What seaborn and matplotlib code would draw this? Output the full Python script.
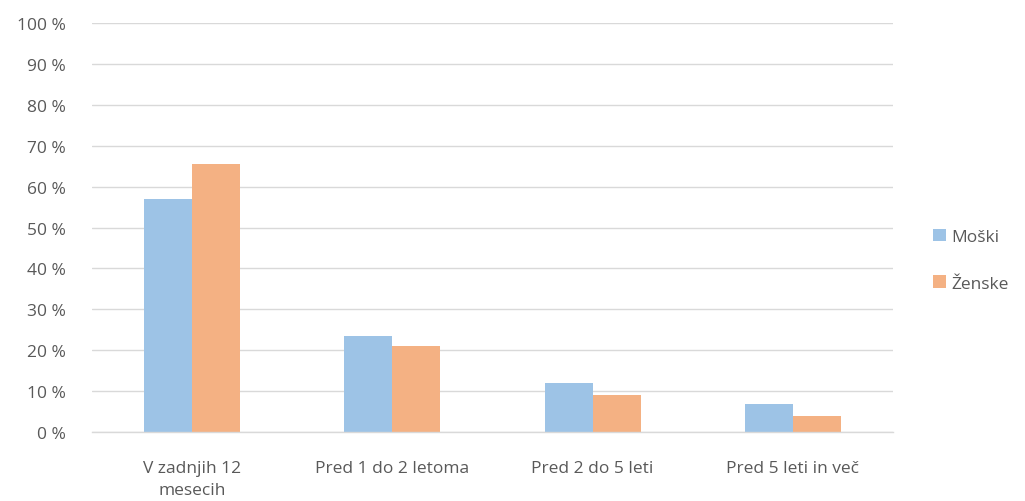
import numpy as np
import pandas as pd
import matplotlib.pyplot as plt
import seaborn as sns

categories = ['V zadnjih 12\nmesecih', 'Pred 1 do 2 letoma', 'Pred 2 do 5 leti', 'Pred 5 leti in več']
moski = [57.0, 23.5, 12.0, 6.8]
zenske = [65.5, 21.0, 9.0, 4.0]
series = ['Moški', 'Ženske']
colors = ['#9DC3E6', '#F4B183']

df = pd.DataFrame({
    'kategorija': categories * 2,
    'spol': [series[0]] * 4 + [series[1]] * 4,
    'delez': moski + zenske,
})

sns.set_style('white')
plt.rcParams['font.family'] = ['Open Sans', 'DejaVu Sans']

fig = plt.figure(figsize=(10.25, 5.02), dpi=100)
ax = fig.add_axes([0.09, 0.1375, 0.781, 0.8145])

sns.barplot(data=df, x='kategorija', y='delez', hue='spol', palette=colors,
            width=0.48, saturation=1, linewidth=0, ax=ax, zorder=2)

ax.set_ylim(0, 100)
ax.set_xlim(-0.5, 3.5)
ax.set_yticks(np.arange(0, 101, 10))
ax.set_yticklabels([f'{v} %' for v in range(0, 101, 10)])
ax.yaxis.grid(True, color='#D9D9D9', linewidth=1, zorder=0)
ax.set_axisbelow(True)
for s in ['top', 'right', 'left']:
    ax.spines[s].set_visible(False)
ax.spines['bottom'].set_color('#D9D9D9')
ax.spines['bottom'].set_linewidth(1)
ax.tick_params(axis='both', length=0, labelsize=12.5, colors='#595959')
ax.tick_params(axis='x', pad=20)
ax.tick_params(axis='y', pad=19)
for lbl in ax.get_xticklabels():
    lbl.set_linespacing(1.5)
ax.set_xlabel('')
ax.set_ylabel('')

ax.legend(loc='center left', bbox_to_anchor=(1.05, 0.42), frameon=False,
          fontsize=12.5, labelcolor='#595959', handlelength=0.75, handleheight=0.75,
          handletextpad=0.3, labelspacing=1.75, borderpad=0, borderaxespad=0)

fig.savefig('out.png', dpi=100)
